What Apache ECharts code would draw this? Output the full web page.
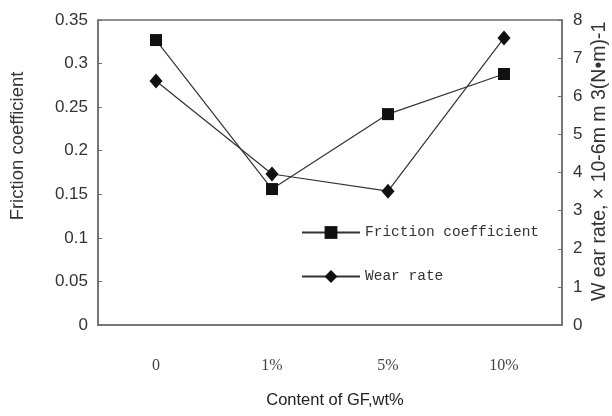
<!DOCTYPE html>
<html>
<head>
<meta charset="utf-8">
<script src="https://cdn.jsdelivr.net/npm/echarts@6/dist/echarts.min.js"></script>
<style>html,body{margin:0;padding:0;background:#fff}#c{width:612px;height:416px}</style>
</head>
<body>
<div id="c"></div>
<script>
var categories = ['0', '1%', '5%', '10%'];
var frictionCoefficient = [0.327, 0.156, 0.242, 0.288];
var wearRate = [6.4, 3.96, 3.51, 7.53];
var leftTicks = { min: 0, max: 0.35, interval: 0.05 };
var rightTicks = { min: 0, max: 8, interval: 1 };

var chart = echarts.init(document.getElementById('c'), null, { renderer: 'canvas' });
var axisColor = '#6e6e6e';
chart.setOption({
  animation: false,
  backgroundColor: '#fff',
  grid: { left: 98, right: 50, top: 20, bottom: 91, show: true, borderColor: axisColor, borderWidth: 1.5, backgroundColor: 'transparent' },
  legend: {
    orient: 'vertical', left: 296, top: 220, itemWidth: 58, itemHeight: 16, itemGap: 29,
    textStyle: { fontFamily: 'Liberation Mono', fontSize: 14.5, color: '#333' },
    data: ['Friction coefficient', 'Wear rate']
  },
  xAxis: {
    type: 'category', data: categories, boundaryGap: true,
    axisLine: { lineStyle: { color: axisColor, width: 1.5 } },
    axisTick: { show: false },
    axisLabel: { margin: 33, fontFamily: 'Liberation Serif', fontSize: 16, color: '#444' }
  },
  yAxis: [
    { type: 'value', min: leftTicks.min, max: leftTicks.max, interval: leftTicks.interval, position: 'left',
      axisLine: { show: true, lineStyle: { color: axisColor, width: 1.5 } },
      axisTick: { show: true, inside: true, length: 4, lineStyle: { color: axisColor } },
      splitLine: { show: false },
      axisLabel: { margin: 10, fontFamily: 'Liberation Sans', fontSize: 17, color: '#333' } },
    { type: 'value', min: rightTicks.min, max: rightTicks.max, interval: rightTicks.interval, position: 'right',
      axisLine: { show: true, lineStyle: { color: axisColor, width: 1.5 } },
      axisTick: { show: true, inside: true, length: 4, lineStyle: { color: axisColor } },
      splitLine: { show: false },
      axisLabel: { margin: 11, fontFamily: 'Liberation Sans', fontSize: 17, color: '#333' } }
  ],
  series: [
    { name: 'Friction coefficient', type: 'line', yAxisIndex: 0, data: frictionCoefficient,
      symbol: 'rect', symbolSize: 12, itemStyle: { color: '#111' }, lineStyle: { color: '#333', width: 1.2 } },
    { name: 'Wear rate', type: 'line', yAxisIndex: 1, data: wearRate,
      symbol: 'diamond', symbolSize: [13, 15], itemStyle: { color: '#111' }, lineStyle: { color: '#333', width: 1.2 } }
  ],
  graphic: [
    { type: 'text', x: 18, y: 146, rotation: Math.PI / 2,
      style: { text: 'Friction coefficient', font: '18.5px "Liberation Sans"', fill: '#333', textAlign: 'center', textVerticalAlign: 'middle' } },
    { type: 'text', x: 600, y: 301, rotation: Math.PI / 2,
      style: { text: 'W ear rate, × 10-6m m 3(N•m)-1', font: '19.5px "Liberation Sans"', fill: '#333', textAlign: 'left', textVerticalAlign: 'middle' } },
    { type: 'text', x: 335, y: 400,
      style: { text: 'Content of GF,wt%', font: '16.5px "Liberation Sans"', fill: '#222', textAlign: 'center', textVerticalAlign: 'middle' } }
  ]
});
</script>
</body>
</html>
